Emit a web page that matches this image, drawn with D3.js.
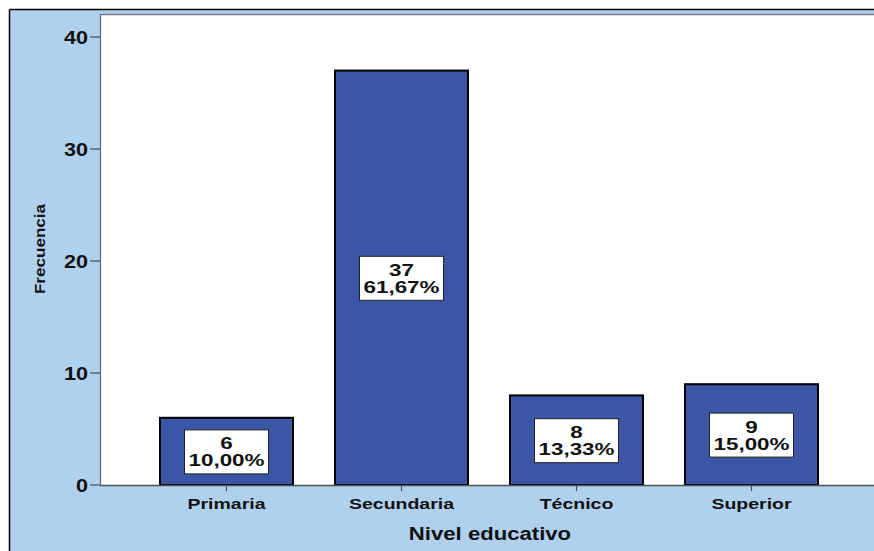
<!DOCTYPE html>
<html><head><meta charset="utf-8">
<script src="https://cdn.jsdelivr.net/npm/d3@7"></script>
<style>html,body{margin:0;padding:0;background:#fff;}svg{display:block;}</style>
</head><body>
<script>
const categories = ["Primaria", "Secundaria", "Técnico", "Superior"];
const counts = [6, 37, 8, 9];
const percents = ["10,00%", "61,67%", "13,33%", "15,00%"];
const yTicks = [0, 10, 20, 30, 40];
const xTitle = "Nivel educativo";
const yTitle = "Frecuencia";

const W = 874, H = 551;
const svg = d3.select("body").append("svg").attr("width", W).attr("height", H);
const font = "'Liberation Sans', Arial, sans-serif";

// outer background
svg.append("rect").attr("x", 0).attr("y", 0).attr("width", W).attr("height", H).attr("fill", "#fff");
svg.append("rect").attr("x", 10).attr("y", 10).attr("width", W - 10).attr("height", H - 10)
  .attr("fill", "#B0D1EE");
svg.append("line").attr("x1", 9.5).attr("x2", W).attr("y1", 9.5).attr("y2", 9.5).attr("stroke", "#000").attr("stroke-width", 1.5);
svg.append("line").attr("x1", 9.5).attr("x2", 9.5).attr("y1", 9.5).attr("y2", H).attr("stroke", "#000").attr("stroke-width", 1.5);

const plot = {left: 100, top: 15, right: W, bottom: 485};
const y = d3.scaleLinear().domain([0, 40]).range([plot.bottom, 37]);
const x = d3.scaleBand().domain(categories).range([139, 839]).paddingInner(0.24).paddingOuter(0.12);

// plot area
svg.append("rect").attr("x", plot.left).attr("y", plot.top).attr("width", plot.right - plot.left)
  .attr("height", plot.bottom - plot.top).attr("fill", "#fff");
svg.append("line").attr("x1", plot.left).attr("x2", plot.right).attr("y1", 14.5).attr("y2", 14.5)
  .attr("stroke", "#707A84").attr("stroke-width", 1.5);
svg.append("line").attr("x1", 100.5).attr("x2", 100.5).attr("y1", 14).attr("y2", plot.bottom)
  .attr("stroke", "#5F6770").attr("stroke-width", 1.2);

// bars
const g = svg.append("g");
g.selectAll("rect.bar").data(categories).join("rect").attr("class", "bar")
  .attr("x", d => x(d)).attr("width", x.bandwidth())
  .attr("y", (d, i) => y(counts[i])).attr("height", (d, i) => y(0) - y(counts[i]))
  .attr("fill", "#3C56A7").attr("stroke", "#000").attr("stroke-width", 2);

// x axis line
svg.append("line").attr("x1", plot.left).attr("x2", plot.right).attr("y1", plot.bottom + 0.5).attr("y2", plot.bottom + 0.5)
  .attr("stroke", "#4a5058").attr("stroke-width", 1.5);

// labels in bars
const boxW = 84, boxH = 44;
categories.forEach((c, i) => {
  const cx = x(c) + x.bandwidth() / 2;
  const cy = (y(counts[i]) + y(0)) / 2;
  svg.append("rect").attr("x", cx - boxW / 2).attr("y", cy - boxH / 2 + 0.5).attr("width", boxW).attr("height", boxH)
    .attr("fill", "#fff").attr("stroke", "#222").attr("stroke-width", 1);
  [String(counts[i]), percents[i]].forEach((t, k) => {
    svg.append("text").attr("transform", `translate(${cx},${cy + (k === 0 ? -2 : 15)}) scale(1.4,1)`)
      .attr("text-anchor", "middle").attr("font-family", font).attr("font-weight", "bold")
      .attr("font-size", 16).attr("fill", "#111").text(t);
  });
});

// x ticks
categories.forEach(c => {
  const cx = x(c) + x.bandwidth() / 2;
  svg.append("line").attr("x1", cx).attr("x2", cx).attr("y1", plot.bottom).attr("y2", plot.bottom + 6)
    .attr("stroke", "#4a5058").attr("stroke-width", 1.2);
  svg.append("text").attr("transform", `translate(${cx},${509}) scale(1.3,1)`)
    .attr("text-anchor", "middle").attr("font-family", font).attr("font-weight", "bold")
    .attr("font-size", 15).attr("fill", "#111").text(c);
});

// y ticks
yTicks.forEach(t => {
  svg.append("line").attr("x1", 90).attr("x2", 100).attr("y1", y(t)).attr("y2", y(t))
    .attr("stroke", "#4a5058").attr("stroke-width", 1.2);
  svg.append("text").attr("transform", `translate(88,${y(t) + 6.5}) scale(1.2,1)`)
    .attr("text-anchor", "end").attr("font-family", font).attr("font-weight", "bold")
    .attr("font-size", 18).attr("fill", "#111").text(t);
});

// axis titles
svg.append("text").attr("transform", `translate(490,540) scale(1.23,1)`)
  .attr("text-anchor", "middle").attr("font-family", font).attr("font-weight", "bold")
  .attr("font-size", 18).attr("fill", "#111").text(xTitle);
svg.append("text").attr("transform", `translate(45,249) rotate(-90) scale(1.22,1)`)
  .attr("text-anchor", "middle").attr("font-family", font).attr("font-weight", "bold")
  .attr("font-size", 14).attr("fill", "#111").text(yTitle);
</script>
</body></html>
